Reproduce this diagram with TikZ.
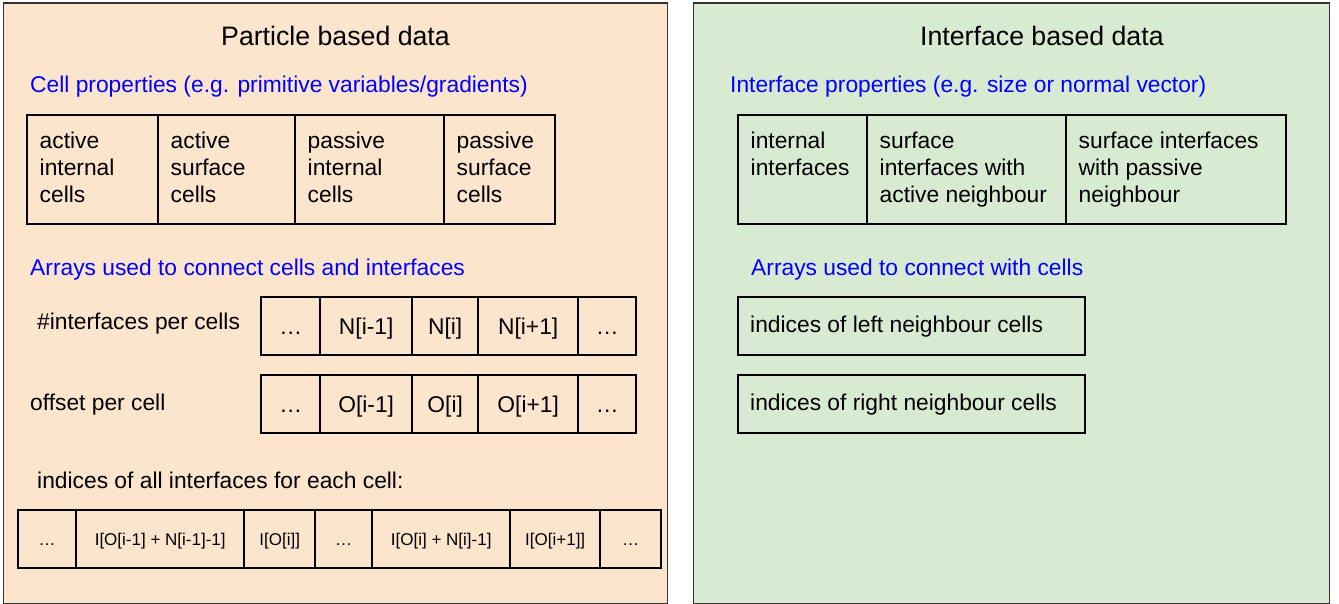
\documentclass[tikz,border=0pt]{standalone}
\usepackage{fontspec}
\setmainfont{Liberation Sans}
\definecolor{peach}{HTML}{FCE5CD}
\definecolor{sage}{HTML}{D9EAD3}
\definecolor{hdblue}{HTML}{0000FF}
% left-aligned multi-line text whose baseline is the first line
\newcommand{\stackl}[1]{\begin{tabular}[t]{@{}l@{}}#1\end{tabular}}

\begin{document}
\begin{tikzpicture}[x=1pt,y=-1pt,
  panel/.style={draw=black!80, line width=1.4pt, inner sep=0pt, anchor=north west},
  cellbox/.style={draw=black, line width=2.4pt, inner sep=0pt, anchor=north west},
  titletext/.style={font=\fontsize{26.7}{32}\selectfont, inner sep=0pt, anchor=base west},
  bluetext/.style={font=\fontsize{22.8}{27}\selectfont, text=hdblue, inner sep=0pt, anchor=base west},
  plain/.style={font=\fontsize{22.8}{27}\selectfont, inner sep=0pt, anchor=base west},
  arrcell/.style={cellbox, minimum height=58, font=\fontsize{22.8}{27}\selectfont,
                  text height=16.3pt, text depth=0pt},
  smallcell/.style={cellbox, minimum height=58, font=\fontsize{17}{20}\selectfont,
                  text height=12.2pt, text depth=0pt}
]
\useasboundingbox (0,0) rectangle (1339,604);

% the two data panels
\node[panel, fill=peach, minimum width=664, minimum height=600] (left) at (2.5,2.5) {};
\node[panel, fill=sage, minimum width=635.5, minimum height=600] (right) at (693,2.5) {};

% headings
\node[titletext] (ltitle) at (221,46) {Particle based data};
\node[titletext] (rtitle) at (920,46) {Interface based data};
\node[bluetext] (lprop) at (30,93) {Cell properties (e.g. primitive variables/gradients)};
\node[bluetext] (rprop) at (730,93) {Interface properties (e.g. size or normal vector)};
\node[bluetext] (larr) at (30,276) {Arrays used to connect cells and interfaces};
\node[bluetext] (rarr) at (751,276) {Arrays used to connect with cells};

% row labels of the cell arrays
\node[plain] (nlab) at (37,329) {\#interfaces per cells};
\node[plain] (olab) at (30,410) {offset per cell};
\node[plain] (ilab) at (37,488) {indices of all interfaces for each cell:};

% cell property blocks
\foreach \nm/\xx/\ww/\lbl in {ca/26/131/{active\\internal\\cells},
                               cb/157/137/{active\\surface\\cells},
                               cc/294/149/{passive\\internal\\cells},
                               cd/443/111/{passive\\surface\\cells},
                               ia/737/129/{internal\\interfaces},
                               ib/866/199/{surface\\interfaces with\\active neighbour},
                               ic/1065/220/{surface interfaces\\with passive\\neighbour}}
{
  \node[cellbox, minimum width=\ww, minimum height=109] (\nm) at (\xx,114) {};
  \node[plain] (\nm-t) at ([shift={(13.5,35)}]\nm.north west) {\stackl{\lbl}};
}

% number of interfaces per cell
\foreach \nm/\xx/\ww/\lbl in {na/260/59/{…}, nb/319/92/{N[i-1]}, nc/411/66/{N[i]},
                               nd/477/100/{N[i+1]}, ne/577/58/{…}}
  \node[arrcell, minimum width=\ww] (\nm) at (\xx,296) {\lbl};

% offsets per cell
\foreach \nm/\xx/\ww/\lbl in {oa/260/59/{…}, ob/319/92/{O[i-1]}, oc/411/66/{O[i]},
                               od/477/100/{O[i+1]}, oe/577/58/{…}}
  \node[arrcell, minimum width=\ww] (\nm) at (\xx,374) {\lbl};

% interface indices of all cells
\foreach \nm/\xx/\ww/\lbl in {ba/17/58/{…}, bb/75/168/{I[O[i-1] + N[i-1]-1]},
                               bc/243/71/{I[O[i]]}, bd/314/57/{…},
                               be/371/138/{I[O[i] + N[i]-1]}, bf/509/90/{I[O[i+1]]},
                               bg/599/61/{…}}
  \node[smallcell, minimum width=\ww] (\nm) at (\xx,509) {\lbl};

% neighbour cell arrays of the interfaces
\node[cellbox, minimum width=347, minimum height=58] (lnb) at (737,296) {};
\node[plain] (lnb-t) at ([shift={(13,36.5)}]lnb.north west) {indices of left neighbour cells};
\node[cellbox, minimum width=347, minimum height=58] (rnb) at (737,374) {};
\node[plain] (rnb-t) at ([shift={(13,36.5)}]rnb.north west) {indices of right neighbour cells};
\end{tikzpicture}
\end{document}
